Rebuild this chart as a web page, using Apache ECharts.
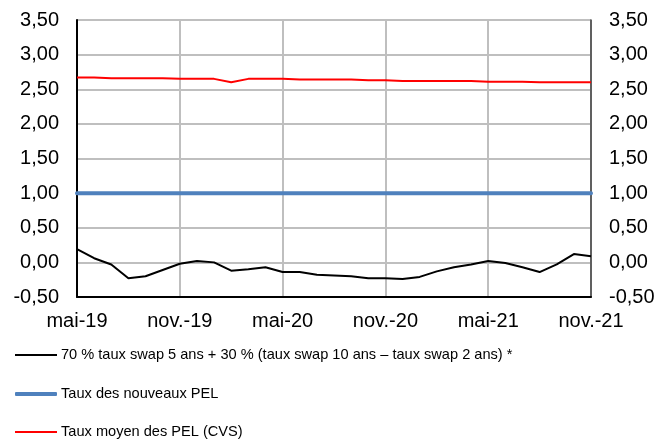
<!DOCTYPE html>
<html>
<head>
<meta charset="utf-8">
<script src="https://cdn.jsdelivr.net/npm/echarts@6/dist/echarts.min.js"></script>
<style>
    html, body { margin: 0; padding: 0; background: #fff; }
    #chart { width: 669px; height: 443px; }
</style>
</head>
<body>
<div id="chart"></div>
<script>
// mois (mai-19 .. nov.-21)
var MOIS = ['mai-19','juin-19','juil.-19','août-19','sept.-19','oct.-19','nov.-19','déc.-19',
    'janv.-20','févr.-20','mars-20','avr.-20','mai-20','juin-20','juil.-20','août-20','sept.-20','oct.-20',
    'nov.-20','déc.-20','janv.-21','févr.-21','mars-21','avr.-21','mai-21','juin-21','juil.-21','août-21',
    'sept.-21','oct.-21','nov.-21'];

var NOMS = ['70 % taux swap 5 ans + 30 % (taux swap 10 ans \u2013 taux swap 2 ans) *',
    'Taux des nouveaux PEL',
    'Taux moyen des PEL (CVS)'];

// 70 % swap 5 ans + 30 % pente 10-2
var SWAP = [0.19,0.06,-0.03,-0.23,-0.20,-0.11,-0.02,0.02,0.00,-0.12,-0.10,-0.07,-0.14,-0.14,-0.18,-0.19,
    -0.20,-0.23,-0.23,-0.24,-0.21,-0.13,-0.07,-0.03,0.02,-0.01,-0.07,-0.14,-0.03,0.12,0.09];

// taux des nouveaux PEL
var NOUVEAUX = [1,1,1,1,1,1,1,1,1,1,1,1,1,1,1,1,1,1,1,1,1,1,1,1,1,1,1,1,1,1,1];

// taux moyen des PEL (CVS)
var MOYEN = [2.67,2.67,2.66,2.66,2.66,2.66,2.65,2.65,2.65,2.60,2.65,2.65,2.65,2.64,2.64,2.64,
    2.64,2.63,2.63,2.62,2.62,2.62,2.62,2.62,2.61,2.61,2.61,2.60,2.60,2.60,2.60];

var Y_MIN = -0.5, Y_MAX = 3.5, Y_PAS = 0.5;

var FONT = 'Liberation Sans, Arial, sans-serif';
var COULEURS = ['#000000', '#4f81bd', '#ff0000'];
var EPAISSEURS = [2, 4, 2];

function virgule(v){
    return v.toFixed(2).replace('.', ',');
}

var chart = echarts.init(document.getElementById('chart'));

var axeY = function(pos){
    return {
        type: 'value',
        position: pos,
        min: Y_MIN,
        max: Y_MAX,
        interval: Y_PAS,
        axisLine: { show: true, lineStyle: pos == 'left' ? { color: '#000', width: 2 } : { color: '#404040', width: 1.5 } },
        axisTick: { show: false },
        axisLabel: {
            formatter: virgule,
            color: '#000',
            fontSize: 20,
            fontFamily: FONT,
            margin: 18
        },
        splitLine: { show: pos == 'left', lineStyle: { color: '#bfbfbf', width: 2 } }
    };
};

// une légende par série, empilées
var legendes = [];
var centres = [355, 394, 432];
for (var i = 0; i < NOMS.length; i++) {
    legendes.push({
        orient: 'vertical',
        left: 15,
        top: centres[i] - 9,
        padding: 0,
        itemWidth: 42,
        itemHeight: EPAISSEURS[i],
        icon: i == 1 ? 'roundRect' : 'rect',
        textStyle: { color: '#000', fontSize: 14.6, fontFamily: FONT, lineHeight: 18, padding: [0, 0, 0, -1] },
        data: [NOMS[i]]
    });
}

var series = [];
var valeurs = [SWAP, NOUVEAUX, MOYEN];
for (var j = 0; j < NOMS.length; j++) {
    series.push({
        name: NOMS[j], type: 'line', data: valeurs[j], symbol: 'none',
        lineStyle: { color: COULEURS[j], width: EPAISSEURS[j], cap: j == 1 ? 'round' : 'butt' },
        itemStyle: { color: COULEURS[j] },
        z: j == 0 ? 4 : 3
    });
}

var option = {
    animation: false,
    backgroundColor: '#fff',
    grid: {
        left: 77, right: 78, top: 20, bottom: 146,
        show: true,
        borderColor: '#595959',
        borderWidth: 1
    },
    legend: legendes,
    xAxis: {
        type: 'category',
        data: MOIS,
        boundaryGap: false,
        axisLine: { onZero: false, lineStyle: { color: '#000', width: 2 } },
        axisTick: { show: false },
        axisLabel: {
            interval: 5,
            color: '#000',
            fontSize: 20,
            fontFamily: FONT,
            margin: 14
        },
        splitLine: { show: true, interval: 5, lineStyle: { color: '#bfbfbf', width: 2 } }
    },
    yAxis: [axeY('left'), axeY('right')],
    series: series
};

chart.setOption(option);
</script>
</body>
</html>
